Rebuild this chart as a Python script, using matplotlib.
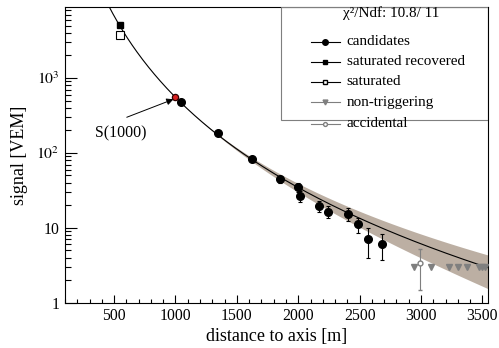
import numpy as np
import matplotlib
matplotlib.use("Agg")
import matplotlib.pyplot as plt
from matplotlib.lines import Line2D
from matplotlib.patches import Rectangle
from matplotlib.ticker import FixedLocator, FixedFormatter, MultipleLocator

plt.rcParams['font.family'] = ['Liberation Serif', 'DejaVu Serif']
plt.rcParams['mathtext.fontset'] = 'stix'

# LDF fit parameters (NKG-like shape)
S1000 = 552.0
BETA = -2.40
R_SCALE = 700.0
BAND_K = 0.10  # relative band width ~ k * ln(f)^2

# station signals
cand_r = [1043, 1347, 1624, 1852, 1996, 2018, 2169, 2243, 2403, 2485, 2566, 2685]
cand_s = [474, 184, 83, 44.4, 34.7, 26.6, 19.7, 16.4, 15.3, 11.1, 7.0, 6.0]
cand_err = [15, 9, 6, 5, 4.5, 4.7, 3.4, 2.9, 2.9, 2.5, 3.0, 2.3]

satrec_r = [551]
satrec_s = [5040]
satrec_err = [300]

sat_r = [551]
sat_s = [3790]

nontrig_r = [2946, 3085, 3231, 3299, 3378, 3475, 3500, 3525]
nontrig_s = [3.0, 3.0, 3.0, 3.0, 3.0, 3.0, 3.0, 3.0]

acc_r = [2988]
acc_s = [3.42]
acc_err_lo = [1.92]
acc_err_hi = [1.74]


def ldf(r):
    f = (r / 1000.0) * ((r + R_SCALE) / (1000.0 + R_SCALE))
    return S1000 * f ** BETA


def band_rel(r):
    f = (r / 1000.0) * ((r + R_SCALE) / (1000.0 + R_SCALE))
    return BAND_K * np.log(f) ** 2


fig = plt.figure(figsize=(4.99, 3.48), dpi=100)
ax = fig.add_axes([0.1303, 0.130, 0.8477, 0.850])

# uncertainty band and fit line
rb = np.linspace(1000, 3550, 300)
sb = ldf(rb)
rel = band_rel(rb)
ax.fill_between(rb, sb * (1 - rel), sb * (1 + rel), color='#bcafa3', lw=0, zorder=1)
rl = np.linspace(420, 3550, 400)
ax.plot(rl, ldf(rl), color='black', lw=0.8, zorder=2)

gray = '#7f7f7f'
ax.errorbar(cand_r, cand_s, yerr=cand_err, fmt='o', color='black', ms=5.5,
            elinewidth=0.8, capsize=1.5, capthick=0.8, zorder=4)
ax.errorbar(satrec_r, satrec_s, yerr=satrec_err, fmt='s', color='black', ms=5,
            elinewidth=0.8, capsize=1.5, zorder=4)
ax.plot(sat_r, sat_s, 's', mfc='white', mec='black', mew=0.8, ms=5.5, zorder=4)
ax.plot(nontrig_r, nontrig_s, 'v', color=gray, ms=4.8, zorder=4)
ax.errorbar(acc_r, acc_s, yerr=[acc_err_lo, acc_err_hi], fmt='o', color=gray,
            mfc='white', mec=gray, ms=3.5, elinewidth=0.8, capsize=1.5, zorder=4)

# S(1000) marker and annotation
ax.plot([1000], [S1000], 'o', mfc='#d62020', mec='#300000', mew=0.9, ms=4.5, zorder=5)
ax.text(345, 184, 'S(1000)', fontsize=11.4, ha='left', va='center')
ax.annotate('', xy=(983, 520), xytext=(603, 299),
            arrowprops=dict(arrowstyle='-|>', color='black', lw=0.7,
                            mutation_scale=10, shrinkA=0, shrinkB=0))

ax.set_yscale('log')
ax.set_xlim(100, 3546)
ax.set_ylim(1, 8870)

ax.xaxis.set_major_locator(FixedLocator([500, 1000, 1500, 2000, 2500, 3000, 3500]))
ax.xaxis.set_minor_locator(MultipleLocator(100))
ax.yaxis.set_major_locator(FixedLocator([1, 10, 100, 1000]))
ax.yaxis.set_major_formatter(FixedFormatter(['1', '10', r'$10^{2}$', r'$10^{3}$']))

ax.tick_params(axis='both', which='both', direction='in', top=False, right=False,
               labelsize=11.3, color='black', width=0.8)
ax.tick_params(axis='x', which='major', length=5.5, pad=4)
ax.tick_params(axis='x', which='minor', length=2.7)
ax.tick_params(axis='y', which='major', length=8.6, pad=4)
ax.tick_params(axis='y', which='minor', length=4.3)
for sp in ax.spines.values():
    sp.set_linewidth(0.8)

ax.set_xlabel('distance to axis [m]', fontsize=13, labelpad=3)
ax.set_ylabel('signal [VEM]', fontsize=13, labelpad=6)

# legend box
tr = ax.transAxes
ax.add_patch(Rectangle((0.511, 0.618), 0.489, 0.382, transform=tr, fill=False,
                       ec=gray, lw=0.8, zorder=6))
ax.text(0.657, 0.980, 'χ²/Ndf: 10.8/ 11', transform=tr, fontsize=10.9,
        ha='left', va='center', zorder=7)

entries = [
    ('candidates', 0.8817, dict(marker='o', color='black', ms=4)),
    ('saturated recovered', 0.814, dict(marker='s', color='black', ms=3.5)),
    ('saturated', 0.7464, dict(marker='s', color='black', mfc='white', ms=3.5)),
    ('non-triggering', 0.6787, dict(marker='v', color=gray, ms=3.5)),
    ('accidental', 0.6045, dict(marker='o', color=gray, mfc='white', ms=2.8)),
]
for label, yy, style in entries:
    ax.add_line(Line2D([0.581, 0.650], [yy, yy], transform=tr, lw=0.8,
                       color=style['color'], zorder=7))
    ax.add_line(Line2D([0.6155], [yy], transform=tr, ls='none', zorder=7, **style))
    ax.text(0.666, yy, label, transform=tr, fontsize=10.9, ha='left',
            va='center', zorder=7)

fig.savefig('out.png', dpi=100)
